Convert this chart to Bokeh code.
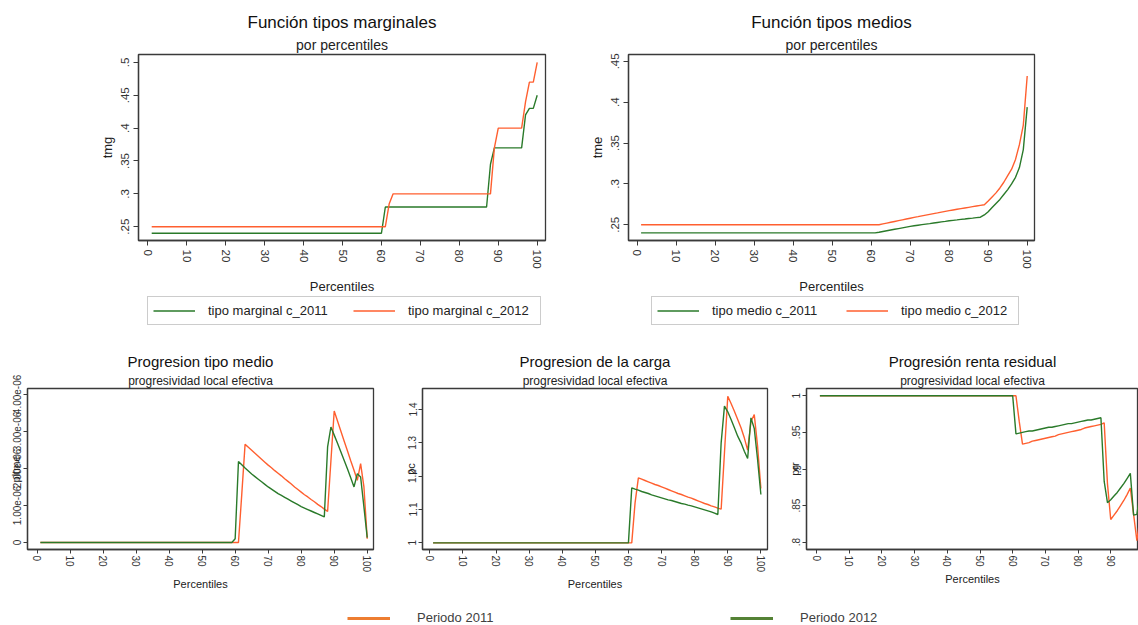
import math
from bokeh.plotting import figure
from bokeh.models import Range1d, FixedTicker, Legend, LegendItem, Title
from bokeh.layouts import row, column
from bokeh.embed import file_html
from bokeh.resources import INLINE

# ---------------- data ----------------
pct = list(range(1, 101))
x_ticks = [0, 10, 20, 30, 40, 50, 60, 70, 80, 90, 100]

# Función tipos marginales (tmg)
tmg_2011 = [
    0.24, 0.24, 0.24, 0.24, 0.24, 0.24, 0.24, 0.24, 0.24, 0.24,
    0.24, 0.24, 0.24, 0.24, 0.24, 0.24, 0.24, 0.24, 0.24, 0.24,
    0.24, 0.24, 0.24, 0.24, 0.24, 0.24, 0.24, 0.24, 0.24, 0.24,
    0.24, 0.24, 0.24, 0.24, 0.24, 0.24, 0.24, 0.24, 0.24, 0.24,
    0.24, 0.24, 0.24, 0.24, 0.24, 0.24, 0.24, 0.24, 0.24, 0.24,
    0.24, 0.24, 0.24, 0.24, 0.24, 0.24, 0.24, 0.24, 0.24, 0.24,
    0.28, 0.28, 0.28, 0.28, 0.28, 0.28, 0.28, 0.28, 0.28, 0.28,
    0.28, 0.28, 0.28, 0.28, 0.28, 0.28, 0.28, 0.28, 0.28, 0.28,
    0.28, 0.28, 0.28, 0.28, 0.28, 0.28, 0.28, 0.345, 0.37, 0.37,
    0.37, 0.37, 0.37, 0.37, 0.37, 0.37, 0.42, 0.43, 0.43, 0.45,
]
tmg_2012 = [
    0.25, 0.25, 0.25, 0.25, 0.25, 0.25, 0.25, 0.25, 0.25, 0.25,
    0.25, 0.25, 0.25, 0.25, 0.25, 0.25, 0.25, 0.25, 0.25, 0.25,
    0.25, 0.25, 0.25, 0.25, 0.25, 0.25, 0.25, 0.25, 0.25, 0.25,
    0.25, 0.25, 0.25, 0.25, 0.25, 0.25, 0.25, 0.25, 0.25, 0.25,
    0.25, 0.25, 0.25, 0.25, 0.25, 0.25, 0.25, 0.25, 0.25, 0.25,
    0.25, 0.25, 0.25, 0.25, 0.25, 0.25, 0.25, 0.25, 0.25, 0.25,
    0.25, 0.285, 0.30, 0.30, 0.30, 0.30, 0.30, 0.30, 0.30, 0.30,
    0.30, 0.30, 0.30, 0.30, 0.30, 0.30, 0.30, 0.30, 0.30, 0.30,
    0.30, 0.30, 0.30, 0.30, 0.30, 0.30, 0.30, 0.30, 0.37, 0.40,
    0.40, 0.40, 0.40, 0.40, 0.40, 0.40, 0.44, 0.47, 0.47, 0.50,
]

# Función tipos medios (tme)
tme_2011 = [
    0.24, 0.24, 0.24, 0.24, 0.24, 0.24, 0.24, 0.24, 0.24, 0.24,
    0.24, 0.24, 0.24, 0.24, 0.24, 0.24, 0.24, 0.24, 0.24, 0.24,
    0.24, 0.24, 0.24, 0.24, 0.24, 0.24, 0.24, 0.24, 0.24, 0.24,
    0.24, 0.24, 0.24, 0.24, 0.24, 0.24, 0.24, 0.24, 0.24, 0.24,
    0.24, 0.24, 0.24, 0.24, 0.24, 0.24, 0.24, 0.24, 0.24, 0.24,
    0.24, 0.24, 0.24, 0.24, 0.24, 0.24, 0.24, 0.24, 0.24, 0.24,
    0.2400, 0.2408, 0.2417, 0.2426, 0.2435, 0.2444, 0.2453, 0.2462, 0.2471, 0.2480,
    0.2487, 0.2494, 0.2501, 0.2508, 0.2514, 0.2521, 0.2528, 0.2535, 0.2541, 0.2548,
    0.2554, 0.2559, 0.2565, 0.2570, 0.2576, 0.2581, 0.2587, 0.2592, 0.2620, 0.2660,
    0.2710, 0.2760, 0.2810, 0.2870, 0.2930, 0.3000, 0.3080, 0.3200, 0.3420, 0.3940,
]
tme_2012 = [
    0.25, 0.25, 0.25, 0.25, 0.25, 0.25, 0.25, 0.25, 0.25, 0.25,
    0.25, 0.25, 0.25, 0.25, 0.25, 0.25, 0.25, 0.25, 0.25, 0.25,
    0.25, 0.25, 0.25, 0.25, 0.25, 0.25, 0.25, 0.25, 0.25, 0.25,
    0.25, 0.25, 0.25, 0.25, 0.25, 0.25, 0.25, 0.25, 0.25, 0.25,
    0.25, 0.25, 0.25, 0.25, 0.25, 0.25, 0.25, 0.25, 0.25, 0.25,
    0.25, 0.25, 0.25, 0.25, 0.25, 0.25, 0.25, 0.25, 0.25, 0.25,
    0.2500, 0.2500, 0.2510, 0.2520, 0.2530, 0.2540, 0.2550, 0.2560, 0.2570, 0.2580,
    0.2590, 0.2599, 0.2609, 0.2618, 0.2627, 0.2636, 0.2645, 0.2655, 0.2664, 0.2673,
    0.2681, 0.2689, 0.2697, 0.2705, 0.2713, 0.2721, 0.2729, 0.2737, 0.2745, 0.2790,
    0.2840, 0.2890, 0.2950, 0.3020, 0.3100, 0.3180, 0.3300, 0.3480, 0.3720, 0.4320,
]

# Progresion tipo medio (pltme, in units of 1e-06)
pltme_2011 = [
    0, 0, 0, 0, 0, 0, 0, 0, 0, 0,
    0, 0, 0, 0, 0, 0, 0, 0, 0, 0,
    0, 0, 0, 0, 0, 0, 0, 0, 0, 0,
    0, 0, 0, 0, 0, 0, 0, 0, 0, 0,
    0, 0, 0, 0, 0, 0, 0, 0, 0, 0,
    0, 0, 0, 0, 0, 0, 0, 0, 0, 0,
    0.00, 1.30, 2.65, 2.57, 2.49, 2.41, 2.33, 2.25, 2.17, 2.09,
    2.02, 1.94, 1.87, 1.80, 1.72, 1.65, 1.58, 1.50, 1.43, 1.36,
    1.29, 1.23, 1.16, 1.10, 1.03, 0.97, 0.90, 0.84, 2.20, 3.55,
    3.28, 3.01, 2.74, 2.48, 2.21, 1.95, 1.68, 2.13, 1.50, 0.10,
]
pltme_2012 = [
    0, 0, 0, 0, 0, 0, 0, 0, 0, 0,
    0, 0, 0, 0, 0, 0, 0, 0, 0, 0,
    0, 0, 0, 0, 0, 0, 0, 0, 0, 0,
    0, 0, 0, 0, 0, 0, 0, 0, 0, 0,
    0, 0, 0, 0, 0, 0, 0, 0, 0, 0,
    0, 0, 0, 0, 0, 0, 0, 0, 0, 0.10,
    2.19, 2.10, 2.01, 1.93, 1.85, 1.78, 1.71, 1.64, 1.57, 1.50,
    1.44, 1.38, 1.32, 1.27, 1.22, 1.17, 1.12, 1.07, 1.02, 0.97,
    0.93, 0.89, 0.85, 0.81, 0.77, 0.73, 0.69, 2.58, 3.12, 2.90,
    2.68, 2.45, 2.22, 1.99, 1.75, 1.50, 1.86, 1.77, 0.96, 0.13,
]

# Progresion de la carga (pc)
pc_2011 = [
    1, 1, 1, 1, 1, 1, 1, 1, 1, 1,
    1, 1, 1, 1, 1, 1, 1, 1, 1, 1,
    1, 1, 1, 1, 1, 1, 1, 1, 1, 1,
    1, 1, 1, 1, 1, 1, 1, 1, 1, 1,
    1, 1, 1, 1, 1, 1, 1, 1, 1, 1,
    1, 1, 1, 1, 1, 1, 1, 1, 1, 1,
    1.000, 1.120, 1.195, 1.191, 1.187, 1.183, 1.179, 1.175, 1.172, 1.168,
    1.164, 1.160, 1.156, 1.152, 1.148, 1.145, 1.141, 1.137, 1.134, 1.130,
    1.126, 1.122, 1.118, 1.115, 1.111, 1.108, 1.104, 1.101, 1.270, 1.440,
    1.418, 1.395, 1.370, 1.345, 1.315, 1.278, 1.363, 1.385, 1.290, 1.163,
]
pc_2012 = [
    1, 1, 1, 1, 1, 1, 1, 1, 1, 1,
    1, 1, 1, 1, 1, 1, 1, 1, 1, 1,
    1, 1, 1, 1, 1, 1, 1, 1, 1, 1,
    1, 1, 1, 1, 1, 1, 1, 1, 1, 1,
    1, 1, 1, 1, 1, 1, 1, 1, 1, 1,
    1, 1, 1, 1, 1, 1, 1, 1, 1, 1,
    1.165, 1.161, 1.158, 1.154, 1.151, 1.148, 1.144, 1.141, 1.138, 1.135,
    1.132, 1.129, 1.127, 1.124, 1.121, 1.118, 1.116, 1.113, 1.111, 1.108,
    1.105, 1.102, 1.099, 1.096, 1.093, 1.089, 1.085, 1.300, 1.410, 1.393,
    1.370, 1.345, 1.320, 1.300, 1.275, 1.253, 1.375, 1.343, 1.250, 1.145,
]

# Progresión renta residual (prr)
prr_2011 = [
    1, 1, 1, 1, 1, 1, 1, 1, 1, 1,
    1, 1, 1, 1, 1, 1, 1, 1, 1, 1,
    1, 1, 1, 1, 1, 1, 1, 1, 1, 1,
    1, 1, 1, 1, 1, 1, 1, 1, 1, 1,
    1, 1, 1, 1, 1, 1, 1, 1, 1, 1,
    1, 1, 1, 1, 1, 1, 1, 1, 1, 1,
    1.000, 0.965, 0.934, 0.935, 0.936, 0.938, 0.939, 0.940, 0.941, 0.942,
    0.943, 0.944, 0.945, 0.947, 0.948, 0.949, 0.950, 0.951, 0.952, 0.953,
    0.954, 0.956, 0.957, 0.958, 0.959, 0.960, 0.961, 0.963, 0.880, 0.831,
    0.837, 0.843, 0.850, 0.857, 0.865, 0.874, 0.838, 0.802, 0.835, 0.860,
]
prr_2012 = [
    1, 1, 1, 1, 1, 1, 1, 1, 1, 1,
    1, 1, 1, 1, 1, 1, 1, 1, 1, 1,
    1, 1, 1, 1, 1, 1, 1, 1, 1, 1,
    1, 1, 1, 1, 1, 1, 1, 1, 1, 1,
    1, 1, 1, 1, 1, 1, 1, 1, 1, 1,
    1, 1, 1, 1, 1, 1, 1, 1, 1, 1,
    0.948, 0.949, 0.950, 0.951, 0.952, 0.952, 0.953, 0.954, 0.955, 0.956,
    0.957, 0.957, 0.958, 0.959, 0.960, 0.961, 0.962, 0.962, 0.963, 0.964,
    0.965, 0.966, 0.967, 0.967, 0.968, 0.969, 0.970, 0.883, 0.854, 0.858,
    0.863, 0.868, 0.874, 0.880, 0.887, 0.894, 0.837, 0.838, 0.868, 0.890,
]

tmg_ticks = [0.25, 0.3, 0.35, 0.4, 0.45, 0.5]
tmg_labels = [".25", ".3", ".35", ".4", ".45", ".5"]
tme_ticks = [0.25, 0.3, 0.35, 0.4, 0.45]
tme_labels = [".25", ".3", ".35", ".4", ".45"]
pltme_ticks = [0, 1, 2, 3, 4]
pltme_labels = ["0", "1.00e-06", "2.00e-06", "3.00e-06", "4.00e-06"]
pc_ticks = [1, 1.1, 1.2, 1.3, 1.4]
pc_labels = ["1", "1.1", "1.2", "1.3", "1.4"]
prr_ticks = [0.8, 0.85, 0.9, 0.95, 1]
prr_labels = [".8", ".85", ".9", ".95", "1"]

# ---------------- styling ----------------
FONT = "Liberation Sans"
GREEN = "#2a7a2a"
ORANGE = "#ff5f2f"
AXC = "#3a3a3a"
TXT = "#222222"
LEG_ORANGE = "#ed7d31"
LEG_GREEN = "#548235"


def make_fig(w, h, left, right, top, bottom, xr, yr, yticks, ylabels, big):
    p = figure(width=w, height=h, x_range=Range1d(*xr), y_range=Range1d(*yr), title=None,
               output_backend="svg", toolbar_location=None,
               min_border_left=left, min_border_right=right,
               min_border_top=top, min_border_bottom=bottom)
    p.xgrid.visible = False
    p.ygrid.visible = False
    p.outline_line_color = AXC
    p.outline_line_width = 1.3
    p.outline_line_alpha = 1.0
    p.xaxis.ticker = FixedTicker(ticks=x_ticks)
    p.yaxis.ticker = FixedTicker(ticks=yticks)
    p.yaxis.major_label_overrides = dict(zip(yticks, ylabels))
    for ax in (p.xaxis[0], p.yaxis[0]):
        ax.axis_line_color = AXC
        ax.axis_line_width = 1.3
        ax.major_tick_line_color = AXC
        ax.major_tick_out = 5 if big else 4
        ax.major_tick_in = 0
        ax.minor_tick_line_color = None
        ax.major_label_orientation = "vertical"
        ax.major_label_text_font = FONT
        ax.major_label_text_font_size = "11.5px" if big else "10px"
        ax.major_label_text_color = "#333333"
        ax.major_label_standoff = 4 if big else 2
        ax.axis_label_text_font = FONT
        ax.axis_label_text_font_style = "normal"
        ax.axis_label_text_color = TXT
    return p


def add_titles(p, title, subtitle, tsize, ssize, sub_standoff):
    p.add_layout(Title(text=subtitle, align="center", text_font=FONT, text_font_size=ssize,
                       text_font_style="normal", text_color=TXT, standoff=sub_standoff), "above")
    p.add_layout(Title(text=title, align="center", text_font=FONT, text_font_size=tsize,
                       text_font_style="normal", text_color="#111111", standoff=2), "above")


def legend_fig(w, h, items, loc, spacing, glyph_w, standoff, lab_w, size, lw, border, color):
    lf = figure(width=w, height=h, x_range=Range1d(0, 1), y_range=Range1d(0, 1), title=None,
                output_backend="svg", toolbar_location=None, x_axis_type=None, y_axis_type=None,
                min_border_left=0, min_border_right=0, min_border_top=0, min_border_bottom=0)
    lf.outline_line_color = None
    lf.xgrid.visible = False
    lf.ygrid.visible = False
    leg_items = []
    for label, col in items:
        r = lf.line(x=[5, 6], y=[5, 6], color=col, line_width=lw)
        leg_items.append(LegendItem(label=label, renderers=[r]))
    leg = Legend(items=leg_items, location=loc, orientation="horizontal", margin=0,
                 padding=5 if border else 0, spacing=spacing, glyph_width=glyph_w,
                 glyph_height=17 if border else 14, label_height=17 if border else 14,
                 label_width=lab_w, label_standoff=standoff,
                 label_text_font=FONT, label_text_font_size=size, label_text_color=color,
                 border_line_color="#9a9a9a" if border else None, border_line_width=1,
                 background_fill_color="white", background_fill_alpha=1.0 if border else 0.0)
    lf.add_layout(leg)
    return lf


def top_chart(w, left, right, xr, yr, ya, yb, ylab, ticks, labels, title):
    p = make_fig(w, 296, left, right, 54, 53, xr, yr, ticks, labels, True)
    p.xaxis.axis_label = "Percentiles"
    p.xaxis.axis_label_text_font_size = "13px"
    p.xaxis.axis_label_standoff = 7
    p.yaxis.axis_label = ylab
    p.yaxis.axis_label_text_font_size = "13px"
    p.yaxis.axis_label_standoff = 4
    p.line(pct, ya, color=GREEN, line_width=1.4)
    p.line(pct, yb, color=ORANGE, line_width=1.4)
    add_titles(p, title, "por percentiles", "17px", "14px", 4)
    return p


def bottom_chart(w, left, right, xr, yr, ya, yb, ylab, ticks, labels, title):
    p = make_fig(w, 262, left, right, 53, 48, xr, yr, ticks, labels, False)
    p.xaxis.axis_label = "Percentiles"
    p.xaxis.axis_label_text_font_size = "11px"
    p.xaxis.axis_label_standoff = 3
    p.yaxis.axis_label = ylab
    p.yaxis.axis_label_text_font_size = "11px"
    p.yaxis.axis_label_standoff = -11
    p.line(pct, ya, color=ORANGE, line_width=1.4)
    p.line(pct, yb, color=GREEN, line_width=1.4)
    add_titles(p, title, "progresividad local efectiva", "15px", "12px", 2)
    return p


tl = top_chart(580, 138, 35, (-2.39, 102.13), (0.229, 0.512), tmg_2011, tmg_2012, "tmg",
               tmg_ticks, tmg_labels, "Función tipos marginales")
tl_leg = legend_fig(580, 39, [("tipo marginal c_2011", GREEN), ("tipo marginal c_2012", ORANGE)],
                    (9, 10), 18, 42, 13, 127, "13px", 1.4, True, TXT)
tr = top_chart(558, 48, 104, (-2.23, 101.87), (0.2307, 0.4584), tme_2011, tme_2012, "tme",
               tme_ticks, tme_labels, "Función tipos medios")
tr_leg = legend_fig(558, 39, [("tipo medio c_2011", GREEN), ("tipo medio c_2012", ORANGE)],
                    (23, 10), 22, 42, 13, 112, "13px", 1.4, True, TXT)

bl = bottom_chart(395, 27, 22, (-2.9, 101.9), (-0.19, 4.16), pltme_2011, pltme_2012, "pltme",
                  pltme_ticks, pltme_labels, "Progresion tipo medio")
bm = bottom_chart(390, 27, 18, (-2.2, 102.0), (0.98, 1.463), pc_2011, pc_2012, "pc",
                  pc_ticks, pc_labels, "Progresion de la carga")
br = bottom_chart(353, 18, 0, (-3.1, 98.5), (0.790, 1.010), prr_2011, prr_2012, "prr",
                  prr_ticks, prr_labels, "Progresión renta residual")

bottom_leg = legend_fig(1138, 28, [("Periodo 2011", LEG_ORANGE), ("Periodo 2012", LEG_GREEN)],
                        (347, 0), 228, 43, 27, 85, "13px", 3, False, "#404040")

layout = column(row(column(tl, tl_leg), column(tr, tr_leg)), row(bl, bm, br), bottom_leg)

open("out.html", "w").write(file_html(layout, INLINE))
